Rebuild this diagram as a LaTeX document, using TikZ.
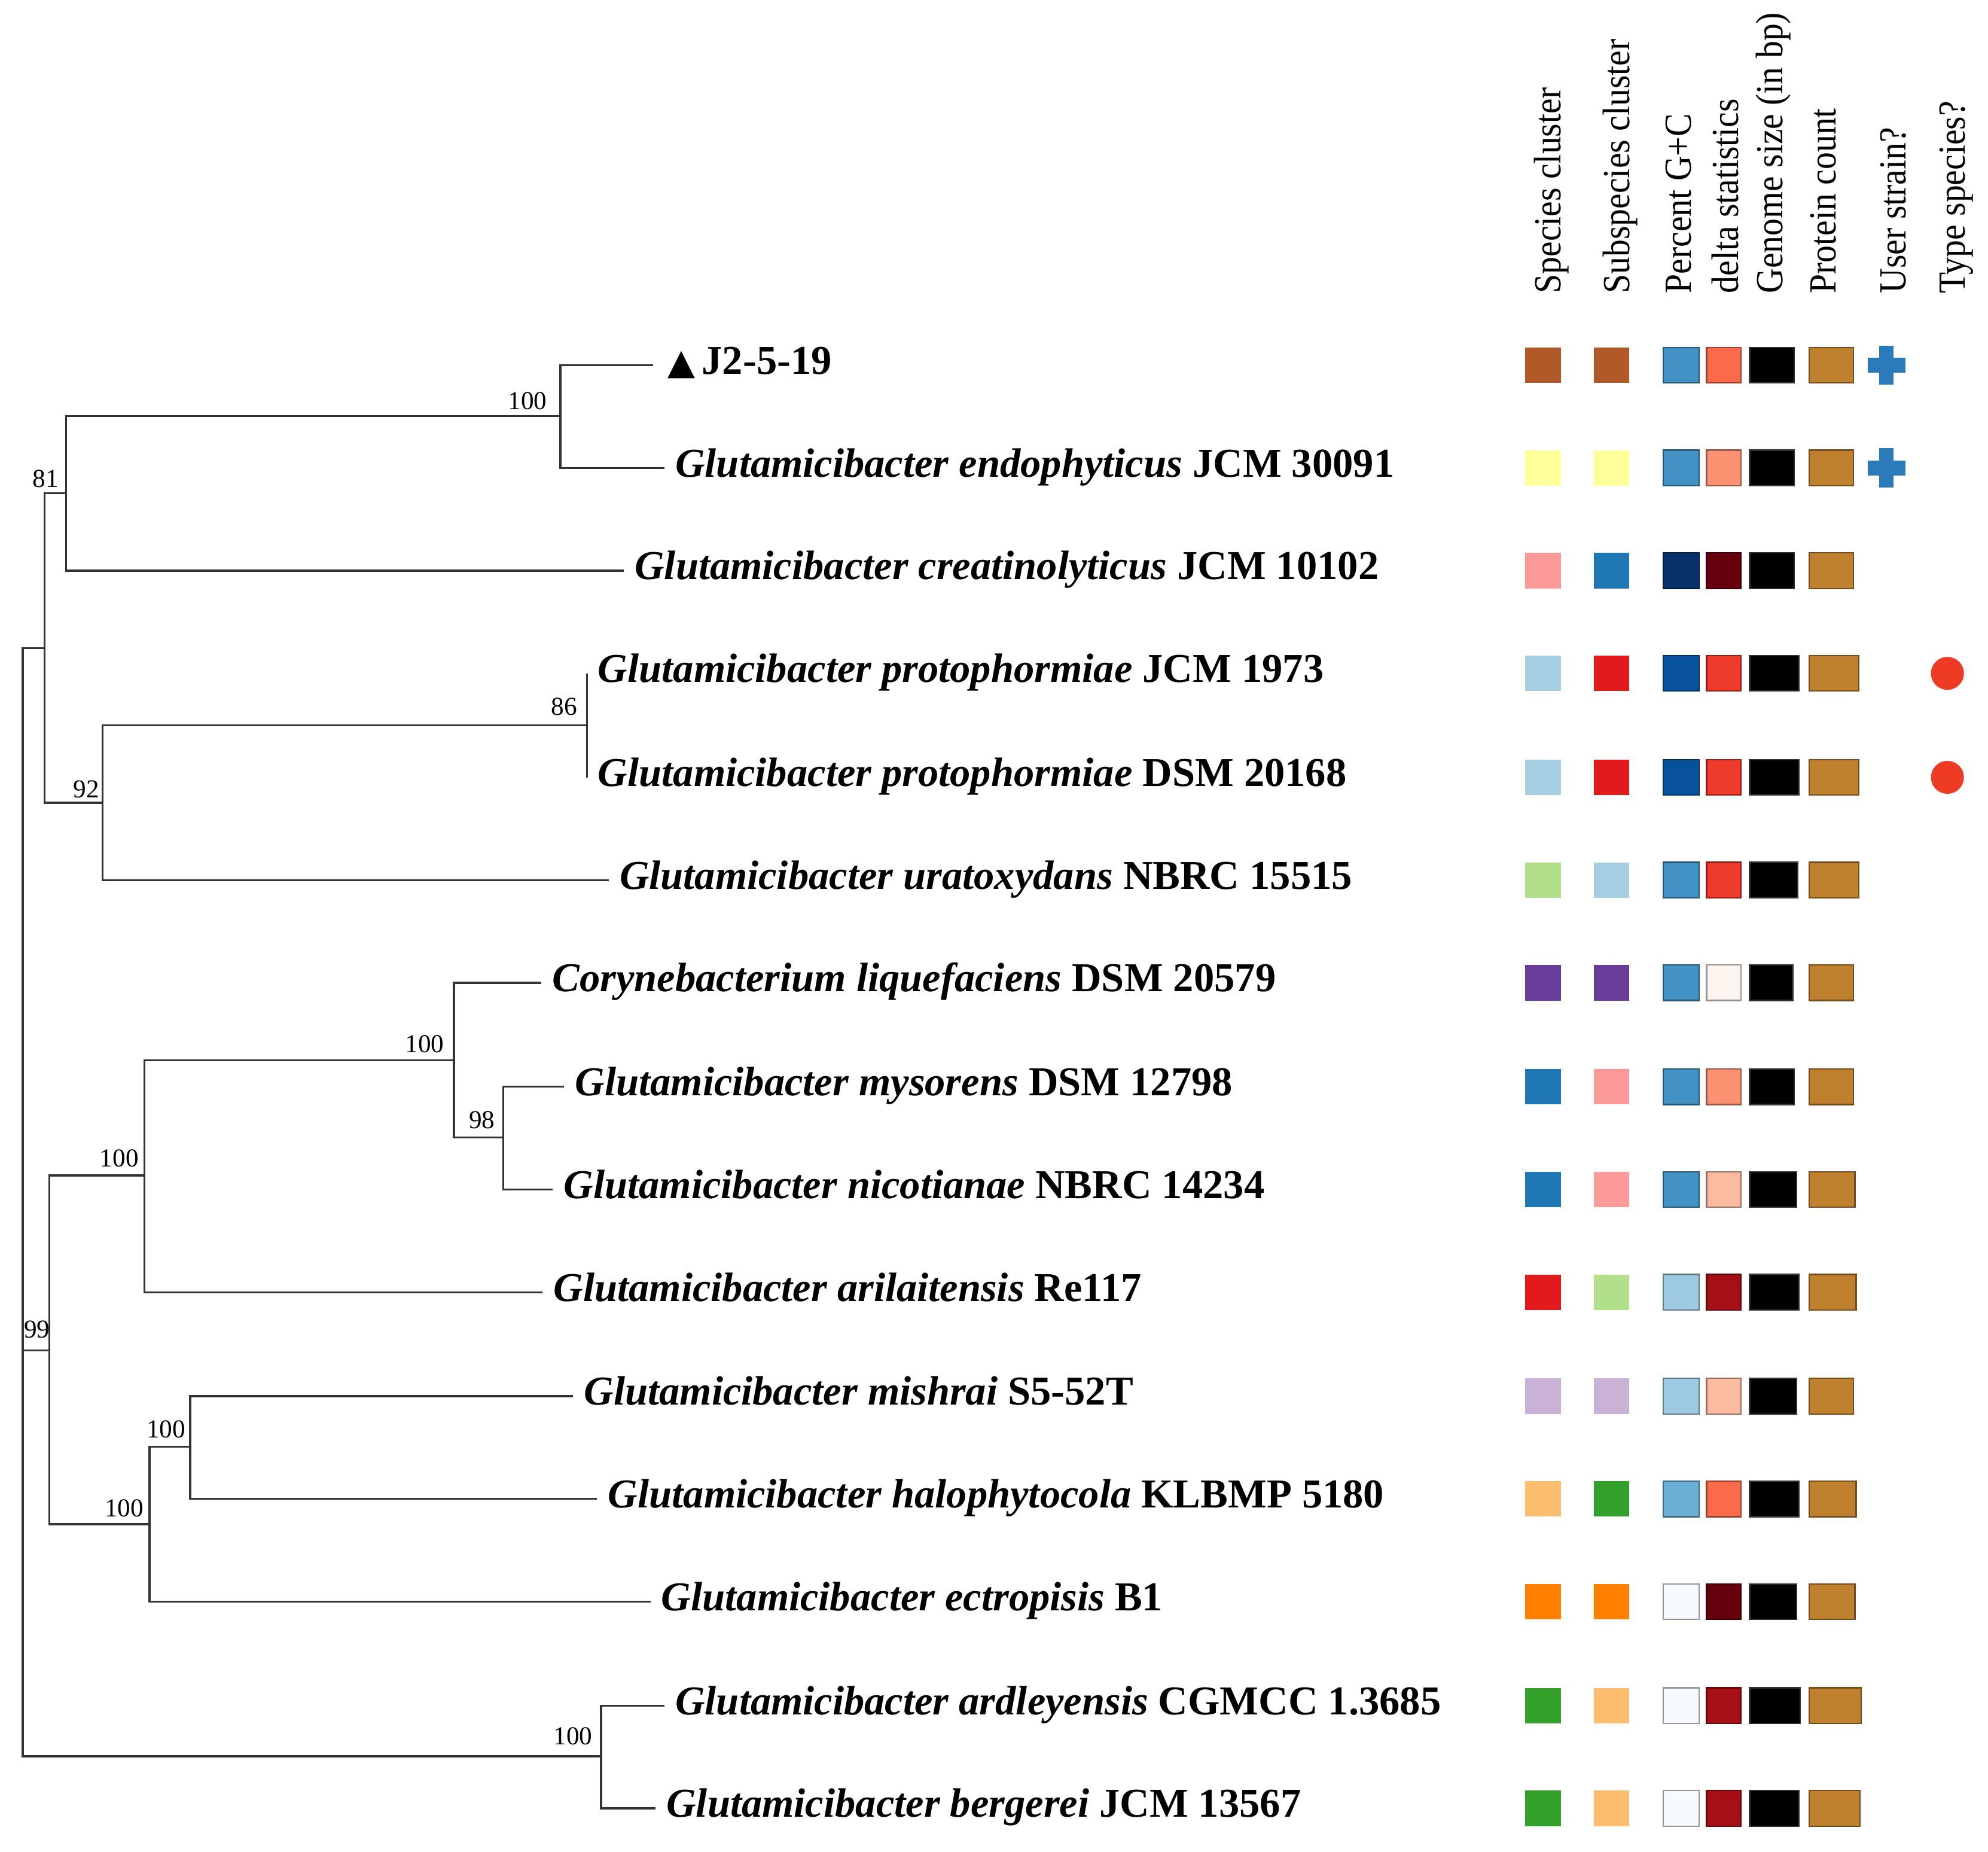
\documentclass[tikz,border=0pt]{standalone}
\usepackage{fontspec}
\setmainfont{Liberation Serif}
\newfontfamily\headfont[FakeStretch=0.9]{Liberation Serif}
\newfontfamily\symfont{DejaVu Sans}
\usepackage{tikz}

\definecolor{pSienna}{HTML}{B15928}
\definecolor{pYellow}{HTML}{FFFF99}
\definecolor{pPink}{HTML}{FB9A99}
\definecolor{pLblue}{HTML}{A6CEE3}
\definecolor{pLgreen}{HTML}{B2DF8A}
\definecolor{pPurple}{HTML}{6A3D9A}
\definecolor{pBlue}{HTML}{1F78B4}
\definecolor{pRed}{HTML}{E31A1C}
\definecolor{pLav}{HTML}{CAB2D6}
\definecolor{pLorange}{HTML}{FDBF6F}
\definecolor{pOrange}{HTML}{FF7F00}
\definecolor{pGreen}{HTML}{33A02C}
\definecolor{bl1}{HTML}{F7FBFF}
\definecolor{bl3}{HTML}{9ECAE1}
\definecolor{bl4}{HTML}{6BAED6}
\definecolor{bl5}{HTML}{4292C6}
\definecolor{bl7}{HTML}{08519C}
\definecolor{bl8}{HTML}{08306B}
\definecolor{rd0}{HTML}{FFF5F0}
\definecolor{rd2}{HTML}{FCBBA1}
\definecolor{rd3}{HTML}{FC9272}
\definecolor{rd4}{HTML}{FB6A4A}
\definecolor{rd5}{HTML}{EF3B2C}
\definecolor{rd7}{HTML}{A50F15}
\definecolor{rd8}{HTML}{67000D}
\definecolor{protein}{HTML}{BF812D}
\definecolor{userblue}{HTML}{2B7BBA}
\definecolor{typered}{HTML}{EE3B23}

\begin{document}
\begin{tikzpicture}[x=0.01cm, y=-0.01cm]
		\tikzstyle{branch} = [draw=black!80, line width=0.45pt]
		\tikzstyle{leaf} = [anchor=west, inner xsep=0.08cm, inner ysep=0pt,
		text height=6.5pt, text depth=2.5pt, font=\fontsize{9.2}{11}\selectfont\bfseries]
		\tikzstyle{boot} = [anchor=base east, inner sep=0pt,
		font=\fontsize{5.8}{7}\selectfont]
		\tikzstyle{head} = [rotate=90, anchor=base west, inner sep=0pt,
		font=\headfont\fontsize{8.6}{10}\selectfont]
		\tikzstyle{cell} = [line width=0.3pt]
		\useasboundingbox (0,0) rectangle (1568,1460);

		\node[head] (hSpecies) at (1231,232) {Species cluster};
		\node[head] (hSubspecies) at (1285,232) {Subspecies cluster};
		\node[head] (hGC) at (1334,232) {Percent G+C};
		\node[head] (hDelta) at (1371,232) {delta statistics};
		\node[head] (hGenome) at (1406,232) {Genome size (in bp)};
		\node[head] (hProtein) at (1448,232) {Protein count};
		\node[head] (hUser) at (1503,232) {User strain?};
		\node[head] (hType) at (1550,232) {Type species?};

		\node[leaf, inner xsep=0.11cm] (l1) at (515,288)
		{{\symfont\fontsize{8}{9}\selectfont ▲}\kern1.5pt J2-5-19};
		\node[leaf] (l2) at (524,369) {{\itshape Glutamicibacter endophyticus} JCM 30091};
		\node[leaf] (l3) at (492,450) {{\itshape Glutamicibacter creatinolyticus} JCM 10102};
		\node[leaf] (l4) at (463,531) {{\itshape Glutamicibacter protophormiae} JCM 1973};
		\node[leaf] (l5) at (463,613) {{\itshape Glutamicibacter protophormiae} DSM 20168};
		\node[leaf] (l6) at (480,694) {{\itshape Glutamicibacter uratoxydans} NBRC 15515};
		\node[leaf] (l7) at (427,775) {{\itshape Corynebacterium liquefaciens} DSM 20579};
		\node[leaf] (l8) at (445,857) {{\itshape Glutamicibacter mysorens} DSM 12798};
		\node[leaf] (l9) at (436,938) {{\itshape Glutamicibacter nicotianae} NBRC 14234};
		\node[leaf] (l10) at (428,1019) {{\itshape Glutamicibacter arilaitensis} Re117};
		\node[leaf] (l11) at (452,1101) {{\itshape Glutamicibacter mishrai} S5-52T};
		\node[leaf] (l12) at (471,1182) {{\itshape Glutamicibacter halophytocola} KLBMP 5180};
		\node[leaf] (l13) at (513,1263) {{\itshape Glutamicibacter ectropisis} B1};
		\node[leaf] (l14) at (524,1345) {{\itshape Glutamicibacter ardleyensis} CGMCC 1.3685};
		\node[leaf] (l15) at (517,1426) {{\itshape Glutamicibacter bergerei} JCM 13567};

		\coordinate (nR) at (18,1065);
		\coordinate (nA) at (35,511);
		\coordinate (nB) at (52,389);
		\coordinate (nC) at (442,328);
		\coordinate (nD) at (81,633);
		\coordinate (nE) at (463,572);
		\coordinate (nG) at (39,1065);
		\coordinate (nH) at (114,927);
		\coordinate (nI) at (358,836);
		\coordinate (nJ) at (397,897);
		\coordinate (nK) at (118,1202);
		\coordinate (nL) at (150,1141);
		\coordinate (nF) at (474,1385);

		\path[branch]
		(nR) |- (nA) (nR) |- (nG) (nR) |- (nF)
		(nA) |- (nB) (nA) |- (nD)
		(nB) |- (nC) (nB) |- (l3.west)
		(nC) |- (l1.west) (nC) |- (l2.west)
		(nD) |- (nE) (nD) |- (l6.west)
		(nE) |- (l4.west) (nE) |- (l5.west)
		(nG) |- (nH) (nG) |- (nK)
		(nH) |- (nI) (nH) |- (l10.west)
		(nI) |- (l7.west) (nI) |- (nJ)
		(nJ) |- (l8.west) (nJ) |- (l9.west)
		(nK) |- (nL) (nK) |- (l13.west)
		(nL) |- (l11.west) (nL) |- (l12.west)
		(nF) |- (l14.west) (nF) |- (l15.west);

		\node[boot] (bC) at (432,323) {100};
		\node[boot] (bB) at (47,384) {81};
		\node[boot] (bD) at (79,629) {92};
		\node[boot] (bE) at (456,564) {86};
		\node[boot] (bG) at (40,1055) {99};
		\node[boot] (bH) at (110,920) {100};
		\node[boot] (bI) at (351,830) {100};
		\node[boot] (bJ) at (391,890) {98};
		\node[boot] (bK) at (114,1196) {100};
		\node[boot] (bL) at (147,1134) {100};
		\node[boot] (bF) at (468,1376) {100};

		\foreach \y/\cs/\cu/\cg/\cd/\g/\p in {
		288/pSienna/pSienna/bl5/rd4/1415/1462, 369/pYellow/pYellow/bl5/rd3/1415/1462,
		450/pPink/pBlue/bl8/rd8/1415/1462, 531/pLblue/pRed/bl7/rd5/1419/1466,
		613/pLblue/pRed/bl7/rd5/1419/1466, 694/pLgreen/pLblue/bl5/rd5/1418/1466,
		775/pPurple/pPurple/bl5/rd0/1414/1462, 857/pBlue/pPink/bl5/rd3/1415/1462,
		938/pBlue/pPink/bl5/rd2/1417/1463, 1019/pRed/pLgreen/bl3/rd7/1419/1464,
		1101/pLav/pLav/bl3/rd2/1417/1462, 1182/pLorange/pGreen/bl4/rd4/1419/1464,
		1263/pOrange/pOrange/bl1/rd8/1417/1463, 1345/pGreen/pLorange/bl1/rd7/1420/1468,
		1426/pGreen/pLorange/bl1/rd7/1419/1467} {
			\fill[\cs] (1203,\y-14) rectangle (1231,\y+14);
			\fill[\cu] (1257,\y-14) rectangle (1285,\y+14);
			\filldraw[cell, fill=\cg, draw=\cg!60!black] (1312,\y-14) rectangle (1340,\y+14);
			\filldraw[cell, fill=\cd, draw=\cd!60!black] (1346,\y-14) rectangle (1373,\y+14);
			\filldraw[cell, fill=black, draw=black!80] (1380,\y-14) rectangle (\g,\y+14);
			\filldraw[cell, fill=protein, draw=protein!60!black] (1427,\y-14) rectangle (\p,\y+14);
		}
		\foreach \y in {288,369} {
			\fill[userblue] (1473,\y-5.8) rectangle (1503,\y+5.8);
			\fill[userblue] (1482.3,\y-15.5) rectangle (1493.7,\y+15.5);
		}
		\foreach \y in {531,613}
			\fill[typered] (1536,\y) circle (0.13cm);
	\end{tikzpicture}
\end{document}
